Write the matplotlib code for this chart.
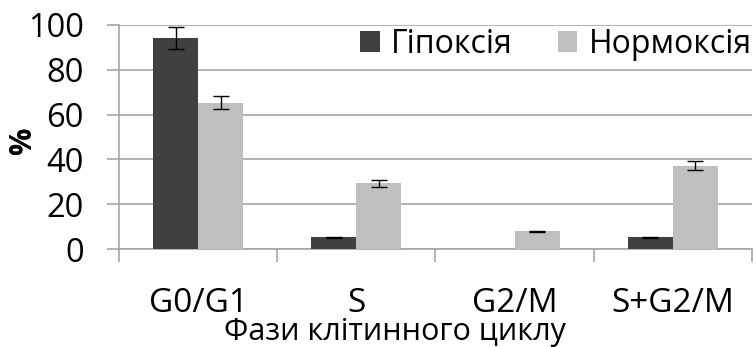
import numpy as np
import matplotlib
matplotlib.use("Agg")
import matplotlib.pyplot as plt

plt.rcParams['font.family'] = ['Open Sans', 'DejaVu Sans']

# дані
phases = ["G0/G1", "S", "G2/M", "S+G2/M"]
hypoxia = [94.3, 5.2, 0.0, 5.2]
hypoxia_err = [5.0, 0.3, 0.0, 0.3]
normoxia = [65.3, 29.3, 8.0, 37.2]
normoxia_err = [3.0, 1.4, 0.3, 2.0]

dark = "#404040"
light = "#bfbfbf"
grid_c = "#a6a6a6"

fig = plt.figure(figsize=(7.54, 3.47), dpi=100)
ax = fig.add_axes([0.158, 0.282, 0.839, 0.646])

x = np.arange(len(phases))
w = 0.285
ax.bar(x - w / 2, hypoxia, w, color=dark, label="Гіпоксія", zorder=3)
ax.bar(x + w / 2, normoxia, w, color=light, label="Нормоксія", zorder=3)

# похибки лише там, де є стовпчик
for xs, vals, errs in [(x - w / 2, hypoxia, hypoxia_err), (x + w / 2, normoxia, normoxia_err)]:
    vals = np.array(vals)
    errs = np.array(errs)
    m = vals > 0
    ax.errorbar(xs[m], vals[m], yerr=errs[m], fmt="none", ecolor="black",
                elinewidth=1, capsize=5.5, capthick=1, zorder=4)

ax.set_xlim(-0.5, len(phases) - 0.5)
ax.set_ylim(0, 100)
ax.set_yticks(np.arange(0, 101, 20))
ax.yaxis.grid(True, color=grid_c, linewidth=1.2, zorder=0)
ax.set_axisbelow(True)

# межі категорій як основні поділки, підписи - по центрах
ax.set_xticks(np.arange(-0.5, len(phases), 1.0))
ax.set_xticklabels([])
ax.set_xticks(x, minor=True)
ax.set_xticklabels(phases, minor=True)
ax.tick_params(axis="x", which="major", length=9.5, color=grid_c, width=1.2)
ax.tick_params(axis="x", which="minor", length=0, pad=27, labelsize=24)
ax.tick_params(axis="y", length=8.5, color=grid_c, width=1.2, labelsize=23.5, pad=17)

for s in ["top", "right"]:
    ax.spines[s].set_visible(False)
ax.spines["left"].set_color(grid_c)
ax.spines["bottom"].set_color(grid_c)
ax.spines["left"].set_linewidth(1.2)
ax.spines["bottom"].set_linewidth(1.2)

ax.set_ylabel("%", fontsize=22, fontweight="bold", va="center")
ax.yaxis.set_label_coords(-0.152, 0.48)
ax.set_xlabel("Фази клітинного циклу", fontsize=22, va="bottom")
ax.xaxis.set_label_coords(0.436, -0.435)

ax.legend(loc="center right", bbox_to_anchor=(1.0, 0.915), ncol=2, frameon=False,
          fontsize=23, handlelength=0.62, handleheight=0.62, handletextpad=0.35,
          columnspacing=1.4, borderpad=0, borderaxespad=0)

fig.savefig("out.png", dpi=100)
